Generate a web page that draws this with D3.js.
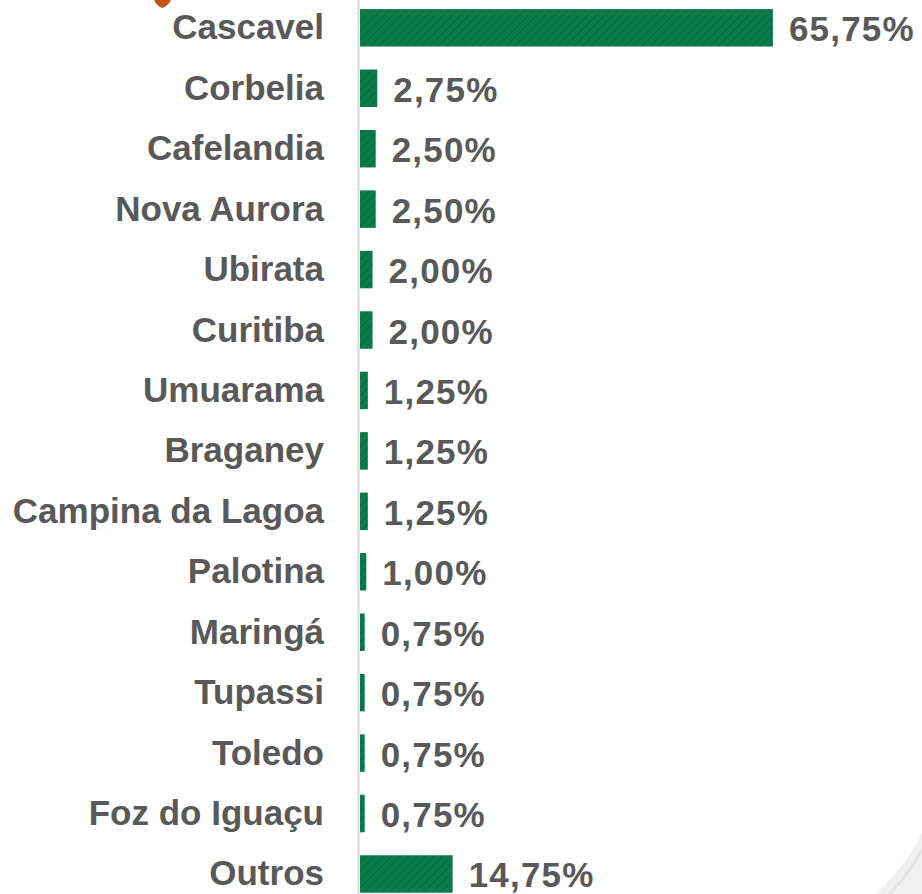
<!DOCTYPE html>
<html><head><meta charset="utf-8">
<script src="https://cdn.jsdelivr.net/npm/d3@7"></script>
<style>html,body{margin:0;padding:0;background:#fff;overflow:hidden}</style>
</head><body>
<script>
const categories = ["Cascavel","Corbelia","Cafelandia","Nova Aurora","Ubirata","Curitiba","Umuarama","Braganey","Campina da Lagoa","Palotina","Maringá","Tupassi","Toledo","Foz do Iguaçu","Outros"];
const values = [65.75,2.75,2.50,2.50,2.00,2.00,1.25,1.25,1.25,1.00,0.75,0.75,0.75,0.75,14.75];
const valueLabels = ["65,75%","2,75%","2,50%","2,50%","2,00%","2,00%","1,25%","1,25%","1,25%","1,00%","0,75%","0,75%","0,75%","0,75%","14,75%"];

const W = 922, H = 894;
const svg = d3.select("body").append("svg").attr("width", W).attr("height", H);

const defs = svg.append("defs");
const pat = defs.append("pattern").attr("id","hatch").attr("patternUnits","userSpaceOnUse")
  .attr("width",6).attr("height",6).attr("patternTransform","rotate(45)");
pat.append("rect").attr("width",6).attr("height",6).attr("fill","#0a7c4c");
pat.append("line").attr("x1",0).attr("y1",0).attr("x2",0).attr("y2",6).attr("stroke","#066b40").attr("stroke-width",2);

// decorative swoosh bottom right
svg.append("path").attr("d","M876,894 C900,870 915,850 922,832 L922,894 Z").attr("fill","#f0f0f0");
svg.append("path").attr("d","M890,894 C906,876 916,862 922,850").attr("fill","none").attr("stroke","#e4e4e4").attr("stroke-width",3);

// orange marker tip at top
svg.append("path").attr("d","M154,0 L171,0 Q168,6 162,8 Q157,6 154,0 Z").attr("fill","#c0560f");

const y = d3.scaleBand().domain(categories).range([-2.4, 904.2]).paddingInner(0.38).paddingOuter(0.19);
const x = d3.scaleLinear().domain([0, 100]).range([359, 987]);

// axis line
svg.append("line").attr("x1",358.5).attr("x2",358.5).attr("y1",0).attr("y2",H)
  .attr("stroke","#d9d9d9").attr("stroke-width",2);

const font = "'Liberation Sans', Arial, sans-serif";

svg.selectAll("rect.bar").data(values).join("rect").attr("class","bar")
  .attr("x", x(0)+1).attr("y",(d,i)=>y(categories[i]))
  .attr("width", d=>x(d)-x(0)).attr("height", y.bandwidth())
  .attr("fill","url(#hatch)");

svg.selectAll("text.cat").data(categories).join("text").attr("class","cat")
  .attr("x",324).attr("y",d=>y(d)+y.bandwidth()/2-1)
  .attr("text-anchor","end").attr("dominant-baseline","central")
  .attr("font-family",font).attr("font-weight","bold").attr("font-size",35)
  .attr("fill","#595959").text(d=>d);

svg.selectAll("text.val").data(values).join("text").attr("class","val")
  .attr("x",d=>x(d)+17).attr("y",(d,i)=>y(categories[i])+y.bandwidth()/2+1)
  .attr("dominant-baseline","central")
  .attr("font-family",font).attr("font-weight","bold").attr("font-size",35)
  .attr("letter-spacing",1.2)
  .attr("fill","#595959").text((d,i)=>valueLabels[i]);
</script>
</body></html>
